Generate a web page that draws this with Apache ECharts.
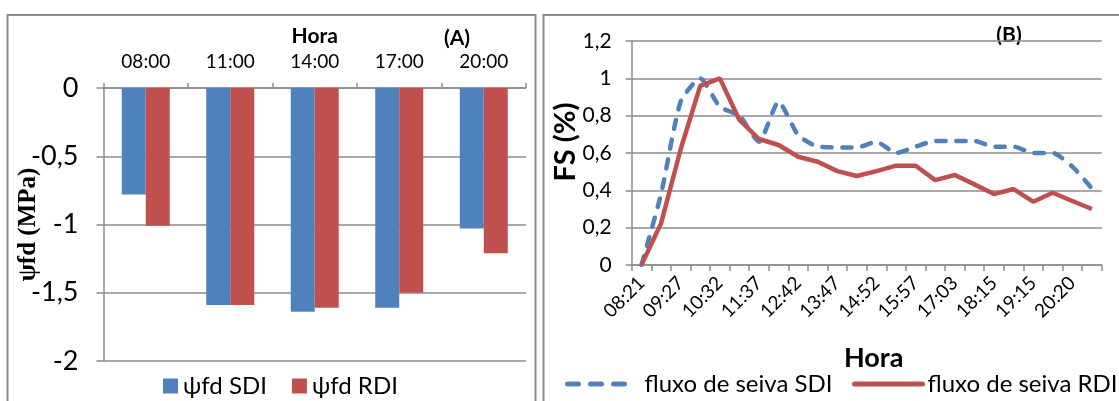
<!DOCTYPE html>
<html>
<head>
<meta charset="utf-8">
<script src="https://cdn.jsdelivr.net/npm/echarts@6/dist/echarts.min.js"></script>
<style>
html,body{margin:0;padding:0;background:#fff;}
#chart{width:1119px;height:401px;}
</style>
</head>
<body>
<div id="chart"></div>
<script>
// ---- Panel A data ----
const hoursA = ['08:00', '11:00', '14:00', '17:00', '20:00'];
const psiSDI = [-0.78, -1.59, -1.64, -1.61, -1.03];
const psiRDI = [-1.01, -1.59, -1.61, -1.50, -1.21];

// ---- Panel B data ----
const hoursB = ['08:21', '08:54', '09:27', '09:59', '10:32', '11:04', '11:37', '12:09',
                '12:42', '13:14', '13:47', '14:19', '14:52', '15:24', '15:57', '16:30',
                '17:03', '17:39', '18:15', '18:45', '19:15', '19:47', '20:20', '20:52'];
const fsSDI = [0, 0.38, 0.875, 1.0, 0.848, 0.80, 0.66, 0.875, 0.696, 0.634, 0.63, 0.63,
               0.66, 0.60, 0.634, 0.664, 0.664, 0.664, 0.634, 0.634, 0.60, 0.60, 0.527, 0.41];
const fsRDI = [0, 0.223, 0.62, 0.96, 1.0, 0.777, 0.675, 0.643, 0.58, 0.553, 0.503, 0.477,
               0.503, 0.532, 0.532, 0.455, 0.482, 0.432, 0.38, 0.407, 0.339, 0.387, 0.343, 0.30];

const FONT = 'Lato, "Open Sans", sans-serif';
const GRIDC = '#8c8c8c';
const BLUE = '#4F81BD';
const RED = '#C0504D';
const comma = v => String(v).replace('.', ',');

const chart = echarts.init(document.getElementById('chart'));
chart.setOption({
  animation: false,
  textStyle: { fontFamily: FONT, color: '#000' },
  grid: [
    { left: 103.5, top: 88, width: 422.5, height: 273 },
    { left: 631.7, top: 41, width: 470, height: 224 }
  ],
  xAxis: [
    {
      gridIndex: 0, type: 'category', data: hoursA, position: 'top',
      axisLine: { lineStyle: { color: GRIDC, width: 1.5 } },
      axisTick: { show: true, length: 5, lineStyle: { color: GRIDC, width: 1.5 } },
      axisLabel: { fontSize: 19, color: '#000', margin: 17, fontFamily: FONT },
      name: 'Hora', nameLocation: 'middle', nameGap: 41, nameMoveOverlap: false,
      nameTextStyle: { fontSize: 21, fontWeight: 'bold', color: '#000', fontFamily: FONT }
    },
    {
      gridIndex: 1, type: 'category', data: hoursB, boundaryGap: true,
      axisLine: { lineStyle: { color: GRIDC, width: 1.5 } },
      axisTick: { show: true, interval: 0, length: 6, lineStyle: { color: GRIDC, width: 1.5 } },
      axisLabel: { interval: 1, rotate: 45, fontSize: 19, color: '#000', margin: 15, fontFamily: FONT },
      name: 'Hora', nameLocation: 'middle', nameGap: 80, nameMoveOverlap: false,
      nameTextStyle: { fontSize: 27, fontWeight: 'bold', color: '#000', fontFamily: FONT, padding: [0, 0, 0, 14] }
    }
  ],
  yAxis: [
    {
      gridIndex: 0, type: 'value', min: -2, max: 0, interval: 0.5,
      axisLine: { show: true, lineStyle: { color: GRIDC, width: 1.5 } },
      axisTick: { show: true, length: 7, lineStyle: { color: GRIDC, width: 1.5 } },
      splitLine: { show: true, lineStyle: { color: GRIDC, width: 1.5 } },
      axisLabel: { fontSize: 27, color: '#000', margin: 25, formatter: comma, fontFamily: FONT },
      name: 'ψfd (MPa)', nameLocation: 'middle', nameGap: 62, nameMoveOverlap: false,
      nameTextStyle: { fontSize: 25, fontWeight: 'bold', color: '#000', fontFamily: '"Liberation Serif", serif' }
    },
    {
      gridIndex: 1, type: 'value', min: 0, max: 1.2, interval: 0.2,
      axisLine: { show: true, lineStyle: { color: GRIDC, width: 1.5 } },
      axisTick: { show: true, length: 6, lineStyle: { color: GRIDC, width: 1.5 } },
      splitLine: { show: true, lineStyle: { color: GRIDC, width: 1.5 } },
      axisLabel: { fontSize: 21, color: '#000', margin: 20, formatter: comma, fontFamily: FONT },
      name: 'FS (%)', nameLocation: 'middle', nameGap: 52, nameMoveOverlap: false,
      nameTextStyle: { fontSize: 29, fontWeight: 'bold', color: '#000', fontFamily: FONT, padding: [0, 0, 0, 22] }
    }
  ],
  legend: [
    {
      data: ['ψfd SDI', 'ψfd RDI'], left: 163, top: 374, padding: 0,
      icon: 'rect', itemWidth: 15, itemHeight: 15, itemGap: 25,
      textStyle: { fontSize: 24, color: '#000', fontFamily: FONT }
    },
    {
      data: ['fluxo de seiva SDI'], left: 565, top: 372, padding: 0,
      itemWidth: 60, itemHeight: 14, itemStyle: { opacity: 0 },
      lineStyle: { width: 5, type: [11, 12], cap: 'round' },
      textStyle: { fontSize: 24, color: '#000', fontFamily: FONT, padding: [0, 0, 0, 12] }
    },
    {
      data: ['fluxo de seiva RDI'], left: 852, top: 372, padding: 0,
      itemWidth: 68, itemHeight: 14, itemStyle: { opacity: 0 },
      lineStyle: { width: 5, cap: 'round' },
      textStyle: { fontSize: 24, color: '#000', fontFamily: FONT }
    }
  ],
  series: [
    { name: 'ψfd SDI', type: 'bar', xAxisIndex: 0, yAxisIndex: 0, data: psiSDI,
      barWidth: 24, barGap: '0%', itemStyle: { color: BLUE } },
    { name: 'ψfd RDI', type: 'bar', xAxisIndex: 0, yAxisIndex: 0, data: psiRDI,
      barWidth: 24, barGap: '0%', itemStyle: { color: RED } },
    { name: 'fluxo de seiva SDI', type: 'line', xAxisIndex: 1, yAxisIndex: 1, data: fsSDI,
      symbol: 'none', showSymbol: false, smooth: 0.2,
      lineStyle: { color: BLUE, width: 4.5, type: [9, 11], cap: 'round' }, itemStyle: { color: BLUE } },
    { name: 'fluxo de seiva RDI', type: 'line', xAxisIndex: 1, yAxisIndex: 1, data: fsRDI,
      symbol: 'none', showSymbol: false,
      lineStyle: { color: RED, width: 4.5 }, itemStyle: { color: RED } }
  ],
  graphic: [
    { type: 'rect', silent: true, shape: { x: 7.5, y: 15, width: 528, height: 420 },
      style: { fill: 'none', stroke: GRIDC, lineWidth: 2 } },
    { type: 'rect', silent: true, shape: { x: 543.5, y: 15, width: 620, height: 420 },
      style: { fill: 'none', stroke: GRIDC, lineWidth: 2 } },
    { type: 'text', x: 457, y: 38, silent: true,
      style: { text: '(A)', font: 'bold 21px ' + FONT, fill: '#000', textAlign: 'center', textVerticalAlign: 'middle' } },
    { type: 'text', x: 1009, y: 35.5, silent: true,
      style: { text: '(B)', font: 'bold 21px ' + FONT, fill: '#000', textAlign: 'center', textVerticalAlign: 'middle' } }
  ]
});
</script>
</body>
</html>
